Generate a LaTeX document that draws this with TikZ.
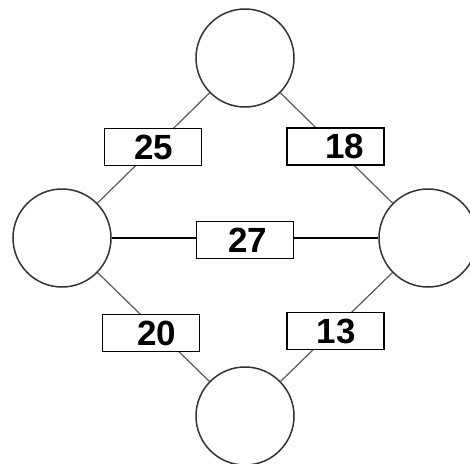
\documentclass[tikz,border=0pt]{standalone}
\usepackage{fontspec}
\setmainfont{Liberation Sans}
\begin{document}
\begin{tikzpicture}[x=1pt,y=-1pt,
  vert/.style={circle,draw=black!80,line width=1.5pt,minimum size=98pt,inner sep=0pt,fill=white},
  wbox/.style={draw=black,line width=1.6pt,fill=white,minimum width=97pt,minimum height=37pt,inner sep=0pt,font=\fontsize{35}{37}\selectfont\bfseries},
  edge/.style={draw=black!65,line width=1.2pt},
  hedge/.style={draw=black,line width=1.3pt}]
\useasboundingbox (0,0) rectangle (470,463);
\clip (0,0) rectangle (470,463);
\node[vert] (T) at (245,58) {};
\node[vert] (L) at (62,238) {};
\node[vert] (R) at (428,238) {};
\node[vert] (B) at (245,416) {};
\draw[edge] (T) -- (L);
\draw[edge] (T) -- (R);
\draw[edge] (L) -- (B);
\draw[edge] (R) -- (B);
\draw[hedge] (L) -- (R);
\node[wbox] (b25) at (153,147) {\hspace*{2pt}25};
\node[wbox] (b18) at (335.5,146.5) {\hspace*{18pt}18};
\node[wbox] (b27) at (245,240) {\hspace*{5pt}27};
\node[wbox] (b20) at (151,333) {\hspace*{12pt}20};
\node[wbox] (b13) at (335.5,331) {\hspace*{1pt}13};
\end{tikzpicture}
\end{document}
